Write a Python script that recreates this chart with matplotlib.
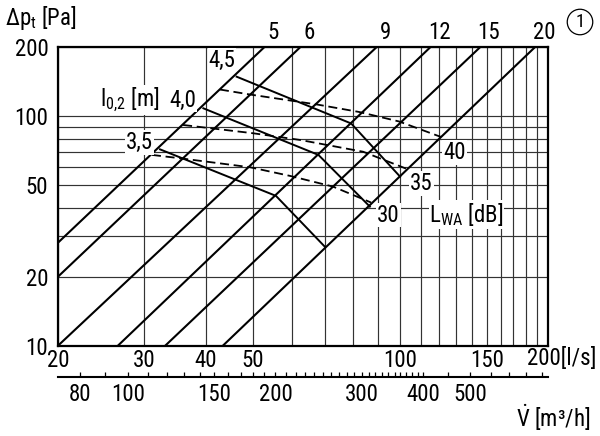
import matplotlib
matplotlib.use('Agg')
import matplotlib.pyplot as plt
from matplotlib import font_manager as fm
from matplotlib.ticker import FixedLocator, FixedFormatter, NullFormatter, NullLocator

avail = {f.name for f in fm.fontManager.ttflist}
FONT = next((f for f in ['Liberation Sans Narrow', 'Roboto Condensed', 'Liberation Sans']
             if f in avail), 'DejaVu Sans')
plt.rcParams['font.family'] = [FONT, 'DejaVu Sans']
plt.rcParams['mathtext.fontset'] = 'custom'
plt.rcParams['mathtext.rm'] = FONT
plt.rcParams['mathtext.it'] = FONT + ':italic'
plt.rcParams['mathtext.bf'] = FONT + ':bold'
FS = 16.5 if 'Narrow' in FONT or 'Condensed' in FONT else 14

# ---------------- data ----------------
flow_ticks = [20, 30, 40, 50, 100, 150, 200]
flow_tick_labels = ['20', '30', '40', '50', '100', '150', '']
flow_minor = [60, 70, 80, 90, 110, 120, 130, 140, 160, 170, 180, 190]
dp_ticks = [10, 20, 50, 100, 200]
dp_tick_labels = ['10', '20', '50', '100', '200']
dp_minor = [30, 40, 60, 70, 80, 90]

m3h_ticks = [80, 90, 100, 110, 120, 130, 140, 150, 160, 170, 180, 190, 200,
             210, 220, 230, 240, 250, 260, 270, 280, 290, 300, 310, 320, 330,
             340, 350, 360, 370, 380, 390, 400, 450, 500, 550, 600, 650, 700]
m3h_labeled = {80: '80', 100: '100', 150: '150', 200: '200',
               300: '300', 400: '400', 500: '500'}

# diagonal size lines: flow [l/s] at 10 Pa and at 200 Pa
size_labels = ['5', '6', '9', '12', '15', '20']
size_v_10pa = [12.0, 14.2, 20.0, 26.5, 33.1, 43.4]
size_v_200pa = [52.7, 62.4, 89.3, 115.0, 145.3, 188.0]

# throw l0,2 [m] (solid)
throw_35_v = [32.3, 55.7, 70.1]
throw_35_p = [71.8, 45.0, 27.0]
throw_40_v = [39.6, 68.0, 86.6]
throw_40_p = [108.4, 67.9, 40.4]
throw_45_v = [46.3, 79.3, 99.8]
throw_45_p = [148.9, 93.1, 54.6]

# sound power LWA [dB] (dashed)
noise_30_v = [31.1, 35.8, 49.3, 59.5, 72.8, 87.1]
noise_30_p = [67.9, 65.5, 60.0, 55.0, 49.4, 42.1]
noise_35_v = [36.0, 50.0, 62.4, 83.9, 102.6]
noise_35_p = [91.7, 84.4, 78.9, 70.1, 59.2]
noise_40_v = [42.8, 49.3, 67.6, 82.3, 99.3, 121.0]
noise_40_p = [130.9, 124.5, 112.6, 104.5, 95.0, 81.3]

# ---------------- figure ----------------
W, H = 600, 436
fig = plt.figure(figsize=(W / 100, H / 100), dpi=100)
ax = fig.add_axes([58 / W, 1 - 345.7 / H, 490 / W, 298.4 / H])
ax.set_xscale('log')
ax.set_yscale('log')
ax.set_xlim(20, 200)
ax.set_ylim(10, 200)

ax.xaxis.set_major_locator(FixedLocator(flow_ticks))
ax.xaxis.set_major_formatter(FixedFormatter(flow_tick_labels))
ax.xaxis.set_minor_locator(FixedLocator(flow_minor))
ax.xaxis.set_minor_formatter(NullFormatter())
ax.yaxis.set_major_locator(FixedLocator(dp_ticks))
ax.yaxis.set_major_formatter(FixedFormatter(dp_tick_labels))
ax.yaxis.set_minor_locator(FixedLocator(dp_minor))
ax.yaxis.set_minor_formatter(NullFormatter())
ax.tick_params(which='both', length=0, labelsize=FS)
ax.tick_params(axis='y', pad=7)
ax.tick_params(axis='x', pad=2.5)
ax.grid(which='both', color='#333333', lw=0.85, zorder=1)
ax.set_axisbelow(True)
for sp in ax.spines.values():
    sp.set_linewidth(1.6)
    sp.set_zorder(5)

# diagonal lines and their labels
for lab, v0, v1 in zip(size_labels, size_v_10pa, size_v_200pa):
    ax.plot([v0, v1], [10, 200], color='black', lw=1.5, zorder=3)
    ax.annotate(lab, xy=(v1 * 1.043, 1.0), xycoords=('data', 'axes fraction'),
                xytext=(0, 11), textcoords='offset points',
                ha='center', va='center', fontsize=FS, annotation_clip=False)

# throw lines (solid)
for v, p in [(throw_35_v, throw_35_p), (throw_40_v, throw_40_p), (throw_45_v, throw_45_p)]:
    ax.plot(v, p, color='black', lw=1.4, zorder=3, solid_joinstyle='miter')

# noise lines (dashed)
for v, p in [(noise_30_v, noise_30_p), (noise_35_v, noise_35_p), (noise_40_v, noise_40_p)]:
    ax.plot(v, p, color='black', lw=1.3, ls=(0, (5, 2.6)), zorder=3)

bb = dict(facecolor='white', edgecolor='none', pad=0.6)
# throw labels
ax.annotate('4,5', xy=(throw_45_v[0], throw_45_p[0]), xytext=(-10.5, 12),
            textcoords='offset points', ha='center', va='center', fontsize=FS,
            bbox=bb, zorder=6)
ax.annotate('4,0', xy=(throw_40_v[0], throw_40_p[0]), xytext=(-15, 6),
            textcoords='offset points', ha='center', va='center', fontsize=FS,
            bbox=bb, zorder=6)
ax.annotate('3,5', xy=(throw_35_v[0], throw_35_p[0]), xytext=(-15, 5),
            textcoords='offset points', ha='center', va='center', fontsize=FS,
            bbox=bb, zorder=6)
ax.annotate(r'l$_\mathrm{0{,}2}$ [m]', xy=(throw_40_v[0], throw_40_p[0]), xytext=(-32, 6),
            textcoords='offset points', ha='right', va='center', fontsize=FS,
            bbox=bb, zorder=6)
# noise labels
ax.annotate('40', xy=(noise_40_v[-1], noise_40_p[-1]), xytext=(1.5, -11),
            textcoords='offset points', ha='left', va='center', fontsize=FS,
            bbox=bb, zorder=6)
ax.annotate('35', xy=(noise_35_v[-1], noise_35_p[-1]), xytext=(3, -11),
            textcoords='offset points', ha='left', va='center', fontsize=FS,
            bbox=bb, zorder=6)
ax.annotate('30', xy=(noise_30_v[-1], noise_30_p[-1]), xytext=(4.5, -9),
            textcoords='offset points', ha='left', va='center', fontsize=FS,
            bbox=bb, zorder=6)
ax.annotate(r'L$_\mathrm{WA}$ [dB]', xy=(noise_30_v[-1], noise_30_p[-1]), xytext=(42, -8.5),
            textcoords='offset points', ha='left', va='center', fontsize=FS,
            bbox=bb, zorder=6)

# x-axis end label
ax.annotate('200[l/s]', xy=(1.0, 0.0), xycoords='axes fraction', xytext=(-15, -9),
            textcoords='offset points', ha='left', va='center', fontsize=FS,
            annotation_clip=False)

# secondary m3/h axis
sec = ax.secondary_xaxis(-0.105, functions=(lambda v: v * 3.6, lambda q: q / 3.6))
sec.xaxis.set_major_locator(FixedLocator(m3h_ticks))
sec.xaxis.set_major_formatter(FixedFormatter([m3h_labeled.get(t, '') for t in m3h_ticks]))
sec.xaxis.set_minor_locator(NullLocator())
sec.tick_params(direction='in', length=3.8, width=0.9, labelsize=FS, pad=4)
sec.spines['bottom'].set_linewidth(1.5)

fig.text(590 / W, 1 - 418 / H, r'$\dot{\mathrm{V}}$ [m³/h]', ha='right', va='center', fontsize=FS)
fig.text(5 / W, 1 - 18.5 / H, r'Δp$_\mathrm{t}$ [Pa]', ha='left', va='center', fontsize=FS)
fig.text(580 / W, 1 - 22 / H, '1', ha='center', va='center', fontsize=FS - 3,
         bbox=dict(boxstyle='circle,pad=0.2', facecolor='white', edgecolor='black', lw=0.9))

fig.savefig('out.png', dpi=100)
